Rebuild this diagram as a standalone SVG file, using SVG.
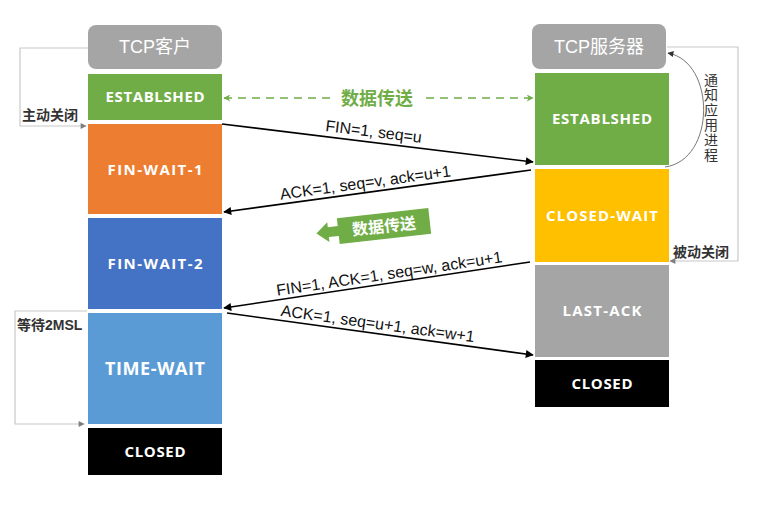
<svg xmlns="http://www.w3.org/2000/svg" width="757" height="508" viewBox="0 0 757 508">
<style>
.st{font-family:"Open Sans","Liberation Sans","Noto Sans CJK SC",sans-serif;font-weight:bold;fill:#fff;text-anchor:middle}
.ttl{font-family:"Liberation Sans","Noto Sans CJK SC",sans-serif;font-size:18px;fill:#fff;text-anchor:middle}
.msg{font-family:"Liberation Sans","Noto Sans CJK SC",sans-serif;font-size:16px;fill:#111;text-anchor:middle}
.lbl{font-family:"Liberation Sans","Noto Sans CJK SC",sans-serif;font-size:14px;font-weight:bold;fill:#333}
.ln{stroke:#000;stroke-width:1.6;fill:none}
.gl{stroke:#c8c8c8;stroke-width:1.2;fill:none}
</style>
<defs>
<marker id="ab" viewBox="0 0 10 10" refX="9" refY="5" markerWidth="10" markerHeight="8" markerUnits="userSpaceOnUse" orient="auto"><path d="M0,0 L10,5 L0,10 z" fill="#000"/></marker>
<marker id="ag" viewBox="0 0 10 10" refX="9" refY="5" markerWidth="7" markerHeight="6" markerUnits="userSpaceOnUse" orient="auto"><path d="M0,0 L10,5 L0,10 z" fill="#7f7f7f"/></marker>
<marker id="agr" viewBox="0 0 10 10" refX="9" refY="5" markerWidth="8" markerHeight="7" markerUnits="userSpaceOnUse" orient="auto"><path d="M0,0 L10,5 L0,10 L3,5 z" fill="#70AD47"/></marker>
<marker id="ac" viewBox="0 0 10 10" refX="9" refY="5" markerWidth="7" markerHeight="6" markerUnits="userSpaceOnUse" orient="auto"><path d="M0,0 L10,5 L0,10 z" fill="#333"/></marker>
</defs>
<rect width="757" height="508" fill="#fff"/>

<g id="connectors">
  <path class="gl" d="M88,48 H20 V126 H86" marker-end="url(#ag)"/>
  <path class="gl" d="M87,311 H15 V424 H84" marker-end="url(#ag)"/>
  <path class="gl" d="M667,47 H738 V261 H670" marker-end="url(#ag)"/>
  <path d="M665,167 C716,160 716,62 668,53" fill="none" stroke="#777" stroke-width="1" marker-end="url(#ac)"/>
  <line x1="330" y1="98" x2="224" y2="98" stroke="#70AD47" stroke-width="1.6" stroke-dasharray="8,6" marker-end="url(#agr)"/>
  <line x1="426" y1="98" x2="533" y2="98" stroke="#70AD47" stroke-width="1.6" stroke-dasharray="8,6" marker-end="url(#agr)"/>
  <line class="ln" x1="222" y1="124" x2="533" y2="162" marker-end="url(#ab)"/>
  <line class="ln" x1="531" y1="170" x2="224" y2="212" marker-end="url(#ab)"/>
  <line class="ln" x1="530" y1="262" x2="224" y2="308" marker-end="url(#ab)"/>
  <line class="ln" x1="227" y1="313" x2="533" y2="355" marker-end="url(#ab)"/>
</g>

<g id="labels">
  <text x="377" y="105" font-family="Liberation Sans,Noto Sans CJK SC,sans-serif" font-size="18" font-weight="bold" fill="#70AD47" text-anchor="middle">数据传送</text>
  <text class="msg" transform="translate(373,137) rotate(7)">FIN=1, seq=u</text>
  <text class="msg" transform="translate(366,188) rotate(-7.8)">ACK=1, seq=v, ack=u+1</text>
  <text class="msg" transform="translate(390,279) rotate(-8.5)">FIN=1, ACK=1, seq=w, ack=u+1</text>
  <text class="msg" transform="translate(377,329) rotate(7.8)">ACK=1, seq=u+1, ack=w+1</text>
  <text class="lbl" x="22" y="120">主动关闭</text>
  <text class="lbl" x="17" y="330" font-size="13">等待2MSL</text>
  <text class="lbl" x="673" y="257">被动关闭</text>
  <text font-family="Liberation Sans,Noto Sans CJK SC,sans-serif" font-size="14" fill="#333" text-anchor="middle"><tspan x="711" y="85">通</tspan><tspan x="711" dy="15">知</tspan><tspan x="711" dy="15">应</tspan><tspan x="711" dy="15">用</tspan><tspan x="711" dy="15">进</tspan><tspan x="711" dy="15">程</tspan></text>
</g>

<g id="callout" transform="translate(384,226) rotate(-6.3)">
  <path d="M-46,-13 H46 V13 H-46 V5 H-56 V10 L-68,0 L-56,-10 V-5 H-46 Z" fill="#70AD47"/>
  <text x="0" y="6" font-family="Liberation Sans,Noto Sans CJK SC,sans-serif" font-size="16" font-weight="bold" fill="#fff" text-anchor="middle">数据传送</text>
</g>

<g id="client-title"><rect x="88" y="25" width="134" height="44" rx="8" fill="#A5A5A5"/><text class="ttl" x="155" y="53">TCP客户</text></g>
<g id="c-established"><rect x="88" y="74" width="134" height="46" fill="#70AD47"/><text class="st" x="155" y="102" font-size="15" textLength="99" lengthAdjust="spacing">ESTABLSHED</text></g>
<g id="c-finwait1"><rect x="88" y="124" width="134" height="90" fill="#ED7D31"/><text class="st" x="155" y="175" font-size="15" textLength="95" lengthAdjust="spacing">FIN-WAIT-1</text></g>
<g id="c-finwait2"><rect x="88" y="218" width="134" height="91" fill="#4472C4"/><text class="st" x="155" y="269" font-size="15" textLength="95" lengthAdjust="spacing">FIN-WAIT-2</text></g>
<g id="c-timewait"><rect x="88" y="313" width="134" height="111" fill="#5B9BD5"/><text class="st" x="155" y="375" font-size="18" textLength="100" lengthAdjust="spacing">TIME-WAIT</text></g>
<g id="c-closed"><rect x="88" y="428" width="134" height="47" fill="#000"/><text class="st" x="155" y="457" font-size="15" textLength="61" lengthAdjust="spacing">CLOSED</text></g>

<g id="server-title"><rect x="532" y="24" width="134" height="45" rx="8" fill="#A5A5A5"/><text class="ttl" x="599" y="53">TCP服务器</text></g>
<g id="s-established"><rect x="535" y="73" width="134" height="92" fill="#70AD47"/><text class="st" x="602" y="124" font-size="15" textLength="100" lengthAdjust="spacing">ESTABLSHED</text></g>
<g id="s-closewait"><rect x="535" y="169" width="134" height="93" fill="#FFC000"/><text class="st" x="602" y="221" font-size="15" textLength="112" lengthAdjust="spacing">CLOSED-WAIT</text></g>
<g id="s-lastack"><rect x="535" y="265" width="134" height="92" fill="#A5A5A5"/><text class="st" x="602" y="316" font-size="15" textLength="79" lengthAdjust="spacing">LAST-ACK</text></g>
<g id="s-closed"><rect x="535" y="360" width="134" height="47" fill="#000"/><text class="st" x="602" y="389" font-size="15" textLength="61" lengthAdjust="spacing">CLOSED</text></g>
</svg>
